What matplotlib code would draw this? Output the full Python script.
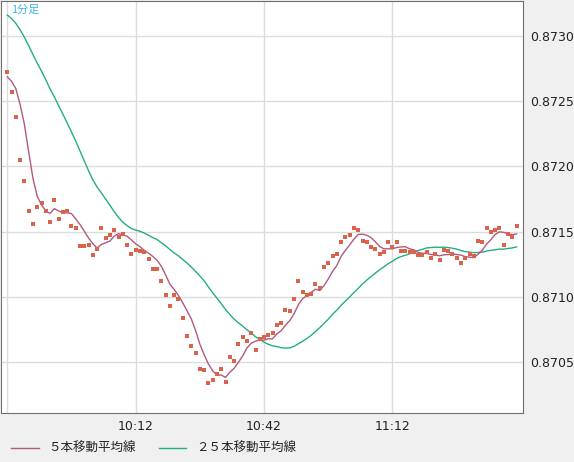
import numpy as np
import pandas as pd
import matplotlib
matplotlib.use("Agg")
import matplotlib.pyplot as plt
from matplotlib.ticker import FixedLocator, FuncFormatter

plt.rcParams['font.family'] = ['DejaVu Sans', 'Noto Sans CJK JP']

# ==========================================================
# DATA (1-minute closes, 9:42 - 11:41)
# ==========================================================

# closes before the visible window (needed for the moving averages)
prefix_close = [
    0.87325, 0.87330, 0.87328, 0.87332, 0.87326, 0.87329, 0.87331, 0.87327,
    0.87330, 0.87333, 0.87328, 0.87326, 0.87330, 0.87332, 0.87329, 0.87327,
    0.87331, 0.87328, 0.87330, 0.87305, 0.87274, 0.87266, 0.87266, 0.87265,
]

close = [
    0.87272, 0.87257, 0.87238, 0.87205, 0.87189, 0.87166, 0.87156, 0.87169,
    0.87172, 0.87166, 0.87157, 0.87174, 0.87160, 0.87165, 0.87166, 0.87154,
    0.87153, 0.87139, 0.87139, 0.87140, 0.87132, 0.87137, 0.87153, 0.87145,
    0.87147, 0.87151, 0.87146, 0.87148, 0.87140, 0.87133, 0.87136, 0.87135,
    0.87134, 0.87129, 0.87121, 0.87121, 0.87112, 0.87101, 0.87093, 0.87101,
    0.87098, 0.87084, 0.87070, 0.87062, 0.87057, 0.87045, 0.87044, 0.87034,
    0.87036, 0.87041, 0.87045, 0.87035, 0.87054, 0.87051, 0.87064, 0.87069,
    0.87066, 0.87072, 0.87059, 0.87068, 0.87069, 0.87071, 0.87072, 0.87078,
    0.87080, 0.87090, 0.87089, 0.87098, 0.87112, 0.87104, 0.87101, 0.87102,
    0.87110, 0.87107, 0.87123, 0.87126, 0.87131, 0.87133, 0.87142, 0.87146,
    0.87147, 0.87153, 0.87151, 0.87143, 0.87142, 0.87138, 0.87137, 0.87133,
    0.87134, 0.87142, 0.87138, 0.87142, 0.87135, 0.87135, 0.87134, 0.87134,
    0.87132, 0.87132, 0.87134, 0.87130, 0.87133, 0.87128, 0.87136, 0.87135,
    0.87133, 0.87130, 0.87126, 0.87130, 0.87133, 0.87131, 0.87143, 0.87142,
    0.87153, 0.87150, 0.87151, 0.87153, 0.87140, 0.87148, 0.87146, 0.87154,
]

start_time = "09:42"
x_tick_labels = ["10:12", "10:42", "11:12"]
y_ticks = [0.8705, 0.8710, 0.8715, 0.8720, 0.8725, 0.8730]

# ==========================================================
# MOVING AVERAGES
# ==========================================================

s = pd.Series(prefix_close + close)
n_pre = len(prefix_close)
ma5 = s.rolling(5).mean().iloc[n_pre:].to_numpy()
ma25 = s.rolling(25).mean().iloc[n_pre:].to_numpy()
idx = np.arange(len(close))

times = pd.date_range("2000-01-01 " + start_time, periods=len(close), freq="min")
labels = times.strftime("%H:%M")
tick_pos = [int(np.where(labels == t)[0][0]) for t in x_tick_labels]

# ==========================================================
# PLOT
# ==========================================================

fig = plt.figure(figsize=(5.74, 4.62), dpi=100, facecolor="#f0f0f0")
ax = fig.add_axes([1 / 574, 49 / 462, 522 / 574, 412 / 462])
ax.set_facecolor("white")

ax.plot(idx, ma25, color="#22b07c", linewidth=1)
ax.plot(idx, ma5, color="#b05a80", linewidth=1)
ax.plot(idx, close, linestyle="none", marker="s", markersize=2.6,
        color="#d9634c", markeredgewidth=0)

ax.set_xlim(-1.47, 120.5)
ax.set_ylim(0.870109, 0.873268)

ax.xaxis.set_major_locator(FixedLocator([tick_pos[0] - 30] + tick_pos))
ax.xaxis.set_major_formatter(
    FuncFormatter(lambda v, p: labels[int(round(v))] if int(round(v)) in tick_pos else ""))
ax.yaxis.tick_right()
ax.set_yticks(y_ticks)
ax.yaxis.set_major_formatter(FuncFormatter(lambda v, p: f"{v:.4f}"))
ax.tick_params(axis="both", length=0, labelsize=9, colors="#222222", pad=5)
ax.grid(True, color="#dcdcdc", linewidth=1)
for sp in ax.spines.values():
    sp.set_color("#707070")

ax.text(0.02, 0.99, "1分足", transform=ax.transAxes, ha="left", va="top",
        color="#35b5e8", fontsize=8, family=['Noto Sans CJK JP', 'DejaVu Sans'])

h5, = ax.plot([], [], color="#b05a80", linewidth=1)
h25, = ax.plot([], [], color="#22b07c", linewidth=1)
leg = fig.legend([h5, h25], ["５本移動平均線", "２５本移動平均線"], loc="lower left",
                 bbox_to_anchor=(0.0, -0.01), ncol=2, frameon=False,
                 handlelength=2.2, columnspacing=1.8, labelcolor="#222222",
                 prop={'family': ['Noto Sans CJK JP', 'DejaVu Sans'], 'size': 9})

plt.savefig("out.png", dpi=100, facecolor=fig.get_facecolor())
